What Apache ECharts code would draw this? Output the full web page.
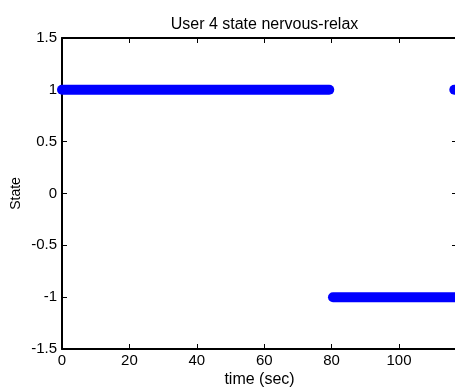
<!DOCTYPE html>
<html>
<head>
<meta charset="utf-8">
<script src="https://cdn.jsdelivr.net/npm/echarts@6/dist/echarts.min.js"></script>
<style>
html,body{margin:0;padding:0;background:#fff;}
#c{width:455px;height:389px;}
</style>
</head>
<body>
<div id="c"></div>
<script>
// Data (time in sec, state)
const titleText = 'User 4 state nervous-relax';
const xName = 'time (sec)';
const yName = 'State';
const xTicks = [0, 20, 40, 60, 80, 100];
const yTicks = [-1.5, -1, -0.5, 0, 0.5, 1, 1.5];
// Runs of constant state (start time, end time) as the dense dot strips show
const relaxRun1 = [[0, 1], [79.3, 1]];
const nervousRun = [[80.4, -1], [118, -1]];
const relaxRun2 = [[116.4, 1], [118, 1]];

const chart = echarts.init(document.getElementById('c'), null, {renderer: 'canvas'});
const font = 'Liberation Sans, Arial, sans-serif';
const axisCommon = {
  axisLine: {show: true, onZero: false, lineStyle: {color: '#000', width: 2}},
  axisTick: {show: true, inside: true, length: 5, lineStyle: {color: '#000', width: 1}},
  splitLine: {show: false}
};
const lineSeries = (d) => ({
  type: 'line', data: d, showSymbol: false, symbol: 'none', clip: true,
  lineStyle: {color: '#0000ff', width: 10, cap: 'round'}, silent: true
});
chart.setOption({
  animation: false,
  backgroundColor: '#fff',
  title: {
    text: titleText, left: 259.5, top: 12, textAlign: 'center',
    textStyle: {fontFamily: font, fontSize: 16, fontWeight: 'normal', color: '#000'}
  },
  grid: {left: 62, right: -2, top: 38, bottom: 40, containLabel: false, outerBoundsMode: 'none'},
  xAxis: [
    Object.assign({}, axisCommon, {
      type: 'value', position: 'bottom', min: 0, max: 117.2, interval: 20,
      name: xName, nameLocation: 'middle', nameGap: 23, nameMoveOverlap: false,
      nameTextStyle: {fontFamily: font, fontSize: 16, color: '#000'},
      axisLabel: {fontFamily: font, fontSize: 15, color: '#000', margin: 4,
        formatter: v => (xTicks.indexOf(v) >= 0 ? String(v) : '')}
    }),
    Object.assign({}, axisCommon, {
      type: 'value', position: 'top', min: 0, max: 117.2, interval: 20,
      axisLabel: {show: false}
    })
  ],
  yAxis: [
    Object.assign({}, axisCommon, {
      type: 'value', position: 'left', min: -1.5, max: 1.5, interval: 0.5,
      name: yName, nameLocation: 'middle', nameGap: 39, nameRotate: 90, nameMoveOverlap: false,
      nameTextStyle: {fontFamily: font, fontSize: 14, color: '#000'},
      axisLabel: {fontFamily: font, fontSize: 15, color: '#000', margin: 5,
        formatter: v => (yTicks.indexOf(v) >= 0 ? String(v) : '')}
    }),
    Object.assign({}, axisCommon, {
      type: 'value', position: 'right', min: -1.5, max: 1.5, interval: 0.5,
      axisLabel: {show: false}
    })
  ],
  series: [lineSeries(relaxRun1), lineSeries(nervousRun), lineSeries(relaxRun2)]
});
</script>
</body>
</html>
